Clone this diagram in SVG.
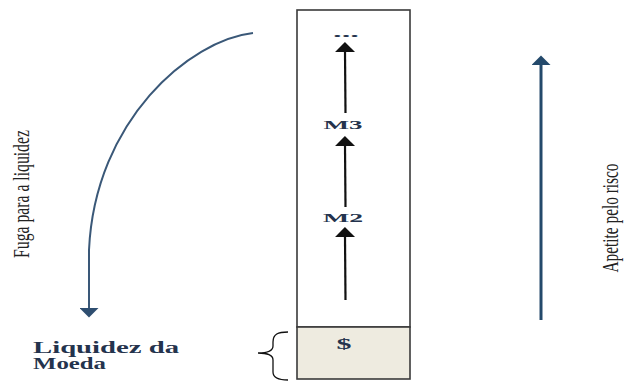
<svg xmlns="http://www.w3.org/2000/svg" width="624" height="383" viewBox="0 0 624 383">
<style>
.lbl{font-family:"Liberation Serif","Times New Roman",serif;font-weight:bold;fill:#24334d}
.rot{font-family:"Liberation Serif","Times New Roman",serif;fill:#222222}
.box{fill:#ffffff;stroke:#3a3a3a;stroke-width:1.6}
.blk{stroke:#111111;stroke-width:2.2;fill:none}
.blue{stroke:#24496b;stroke-width:3;fill:none}
.curve{stroke:#3a5878;stroke-width:2;fill:none}
</style>
<defs>
<marker id="ahB" viewBox="0 0 10 20" markerWidth="10" markerHeight="20" refX="0" refY="10" orient="auto" markerUnits="userSpaceOnUse">
<path d="M0,0 L10,10 L0,20 z" fill="#111111"/>
</marker>
<marker id="ahN" viewBox="0 0 10 20" markerWidth="10" markerHeight="19" refX="0" refY="10" orient="auto" markerUnits="userSpaceOnUse">
<path d="M0,0 L10,10 L0,20 z" fill="#24496b"/>
</marker>
<marker id="ahC" viewBox="0 0 10 20" markerWidth="10" markerHeight="19" refX="0" refY="10" orient="auto" markerUnits="userSpaceOnUse">
<path d="M0,0 L10,10 L0,20 z" fill="#2e4e70"/>
</marker>
</defs>

<g id="column">
<rect class="box" x="297" y="10" width="113" height="317"/>
</g>
<g id="moeda">
<rect class="box" x="297" y="327" width="113" height="52" style="fill:#eeebe0"/>
<text class="lbl" x="344" y="349" font-size="15" text-anchor="middle" textLength="15" lengthAdjust="spacingAndGlyphs">$</text>
</g>
<g id="m2">
<text class="lbl" x="343" y="222" font-size="13.5" text-anchor="middle" textLength="40" lengthAdjust="spacingAndGlyphs">M2</text>
</g>
<g id="m3">
<text class="lbl" x="343" y="129" font-size="13.5" text-anchor="middle" textLength="39" lengthAdjust="spacingAndGlyphs">M3</text>
</g>
<g id="etc">
<text class="lbl" x="346" y="37" font-size="13" text-anchor="middle" textLength="26" lengthAdjust="spacingAndGlyphs">...</text>
</g>
<g id="liquidez-label">
<text class="lbl" x="33" y="353" font-size="16" textLength="146" lengthAdjust="spacingAndGlyphs">Liquidez da</text>
<text class="lbl" x="33" y="369" font-size="16" textLength="73" lengthAdjust="spacingAndGlyphs">Moeda</text>
</g>
<g id="fuga-label">
<text class="rot" transform="translate(29,194) rotate(-90) scale(0.684,1)" font-size="23" text-anchor="middle">Fuga para a liquidez</text>
</g>
<g id="apetite-label">
<text class="rot" transform="translate(618,218) rotate(-90) scale(0.64,1)" font-size="24" text-anchor="middle">Apetite pelo risco</text>
</g>
<g id="brace">
<path d="M288,332 C278,332 273,334 273,342 L273,346 C273,351 266,353 258,353 C266,353 273,355 273,360 L273,372 C273,378 278,380 288,380" fill="none" stroke="#111111" stroke-width="1.3"/>
</g>

<g id="connectors">
<line class="blk" x1="345.5" y1="300" x2="345" y2="237" marker-end="url(#ahB)"/>
<line class="blk" x1="345.5" y1="207" x2="345" y2="146" marker-end="url(#ahB)"/>
<line class="blk" x1="345.5" y1="113" x2="345" y2="52" marker-end="url(#ahB)"/>
<line class="blue" x1="541" y1="320" x2="541" y2="65" marker-end="url(#ahN)"/>
<path class="curve" d="M253,33 C190,40 95,120 89,250 L89,308" marker-end="url(#ahC)"/>
</g>
</svg>
